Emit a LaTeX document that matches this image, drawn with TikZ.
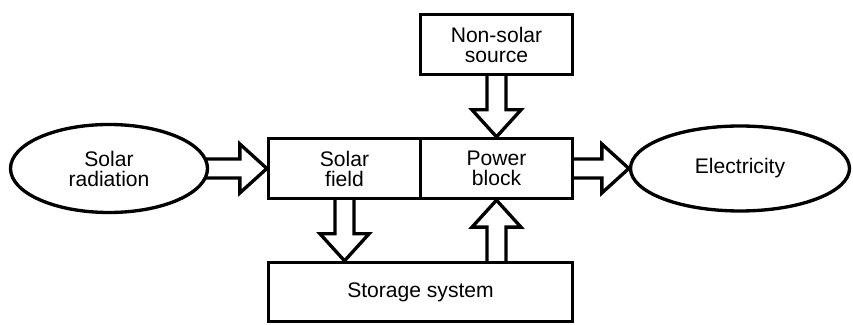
\documentclass[tikz,border=0pt]{standalone}
\usepackage{fontspec}
\setmainfont{Liberation Sans}
\usetikzlibrary{shapes.geometric, calc, backgrounds}

\tikzset{
    block/.style={draw, line width=1.9pt, fill=white, inner sep=0pt, align=center,
        minimum width=3.04cm, minimum height=1.2cm},
    blob/.style={draw, ellipse, line width=1.9pt, fill=white, inner sep=0pt, align=center},
    fatarrow/.style={draw, line width=1.9pt, fill=white, line join=miter}
}

\newcommand{\bigarrow}[2]{%
    \draw[fatarrow] let \p1 = (#1), \p2 = (#2),
        \n1 = {atan2(\y2-\y1, \x2-\x1)}, \n2 = {veclen(\x2-\x1, \y2-\y1)} in
        [shift={(\p1)}, rotate=\n1]
        (-0.1cm, -0.19cm) -- (\n2-0.54cm, -0.19cm) -- (\n2-0.54cm, -0.49cm)
        -- (\n2, 0cm) -- (\n2-0.54cm, 0.49cm) -- (\n2-0.54cm, 0.19cm) -- (-0.1cm, 0.19cm);
}

\begin{document}
\begin{tikzpicture}[font=\fontsize{12}{11.4}\selectfont]
    \useasboundingbox (0, 0) rectangle (17.06, 6.5);

    \node[block] at (9.93, 5.61) (src) {Non-solar\\source};
    \node[block] at (6.89, 3.13) (field) {Solar\\field};
    \node[block] at (9.93, 3.13) (power) {Power\\block};
    \node[block, minimum width=6.08cm, minimum height=1.18cm] at (8.41, 0.66) (store) {Storage system};
    \node[blob, minimum width=3.94cm, minimum height=1.76cm] at (2.18, 3.13) (rad) {Solar\\radiation};
    \node[blob, minimum width=4.38cm, minimum height=1.7cm] at (14.8, 3.13) (elec) {Electricity};

    \begin{pgfonlayer}{background}
        \bigarrow{rad.east}{field.west}
        \bigarrow{power.east}{elec.west}
        \bigarrow{src.south}{power.north}
        \bigarrow{field.south}{field.south |- store.north}
        \bigarrow{power.south |- store.north}{power.south}
    \end{pgfonlayer}
\end{tikzpicture}
\end{document}
